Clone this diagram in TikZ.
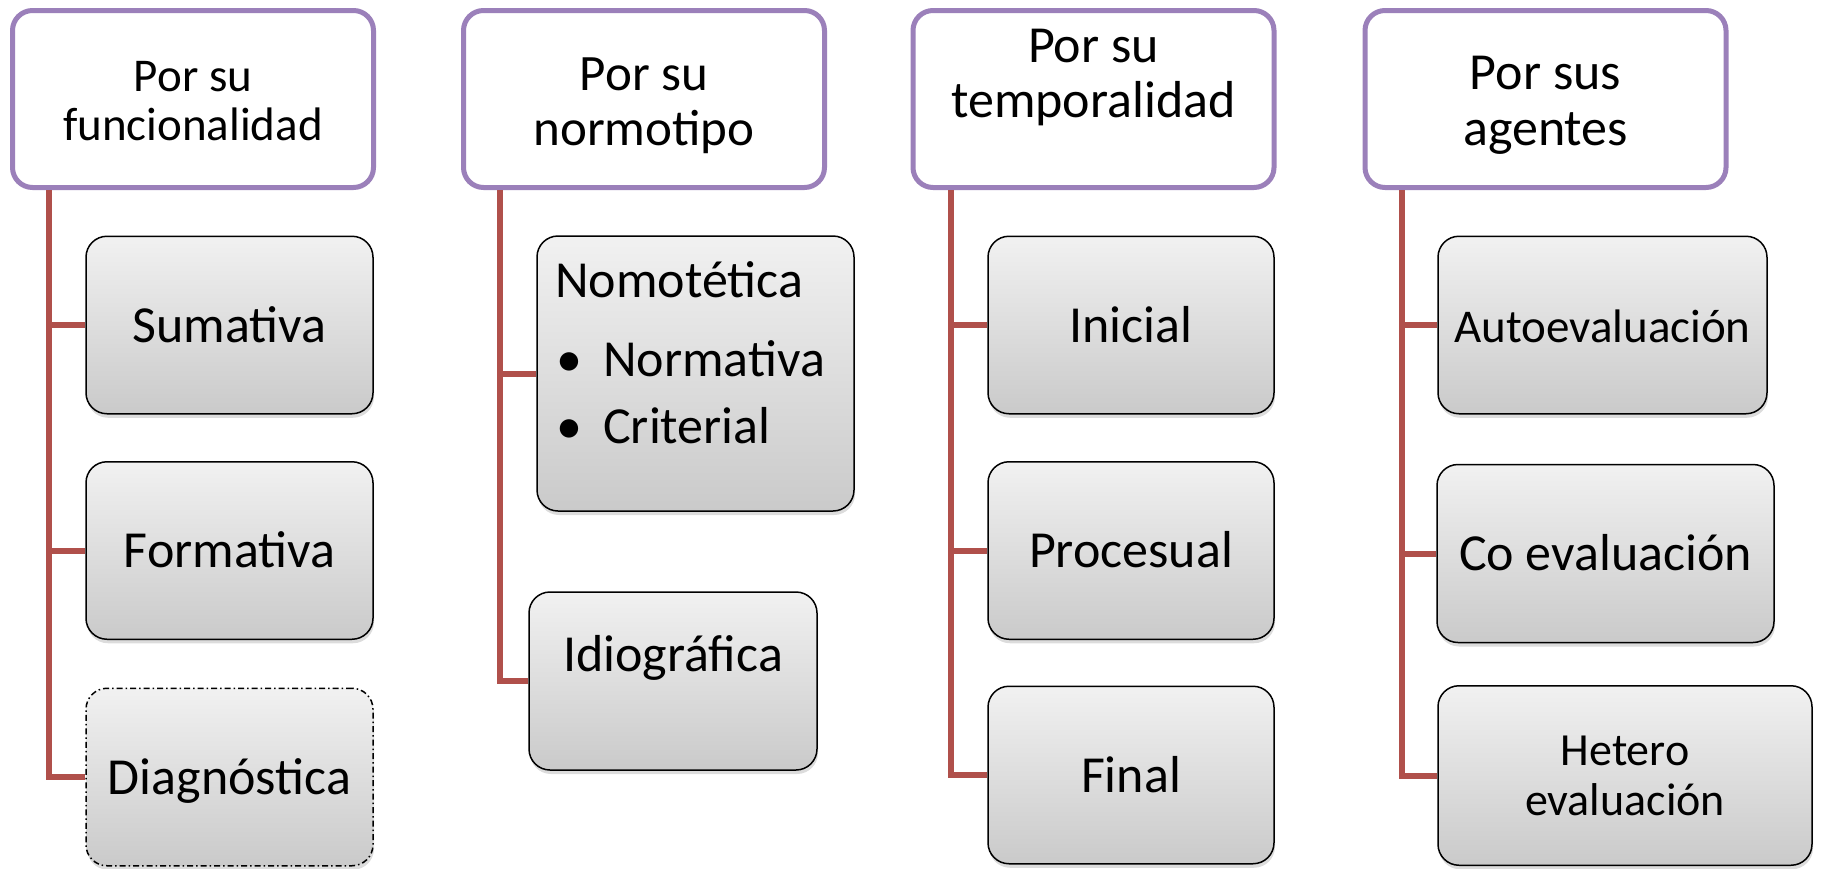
\documentclass[tikz,border=0pt]{standalone}
\usepackage{fontspec}
\setmainfont{Carlito}
\usetikzlibrary{shadows}
\definecolor{hdrpurple}{RGB}{155,128,186}
\definecolor{connred}{RGB}{176,80,75}
\definecolor{boxtop}{RGB}{241,241,241}
\definecolor{boxbot}{RGB}{202,202,202}
\newcommand\fszBody{\fontsize{52}{56}\selectfont}
\tikzset{
  hdr/.style={draw=hdrpurple, line width=5pt, rounded corners=20pt, fill=white,
    minimum width=361pt, minimum height=177pt, inner sep=0pt},
  htxt/.style={anchor=north, align=center, inner sep=0pt},
  sub/.style={draw=black, line width=1.5pt, rounded corners=21pt,
    top color=boxtop, bottom color=boxbot,
    drop shadow={opacity=0.28, shadow xshift=1pt, shadow yshift=-4pt},
    minimum width=287pt, minimum height=177.5pt, inner sep=0pt, font=\fszBody},
  one/.style={text height=34pt, text depth=0pt},
  btxt/.style={anchor=base west, inner sep=0pt, font=\fszBody},
  conn/.style={draw=connred, line width=6pt},
  dashdot/.style={dash pattern=on 6pt off 3pt on 1.5pt off 3pt}
}
\begin{document}
\begin{tikzpicture}[x=1pt, y=-1pt]
\useasboundingbox (0,0) rectangle (1821,868);

% headers
\node[hdr] (h1) at (193,99) {};
\node[hdr] (h2) at (644,99) {};
\node[hdr] (h3) at (1093.5,99) {};
\node[hdr] (h4) at (1545.5,99) {};
\node[htxt, font=\fontsize{47}{49}\selectfont] (h1t) at (193,61.3) {Por su\\funcionalidad};
\node[htxt, font=\fontsize{51}{55}\selectfont] (h2t) at (644,57.8) {Por su\\normotipo};
\node[htxt, font=\fontsize{52}{55}\selectfont] (h3t) at (1093.5,29.1) {Por su\\temporalidad};
\node[htxt, font=\fontsize{52}{56}\selectfont] (h4t) at (1545.5,56.1) {Por sus\\agentes};

% column 1
\node[sub, one] (sum) at (229.5,325) {Sumativa};
\node[sub, one] (form) at (229.5,550.5) {Formativa};
\node[sub, one, dashdot] (diag) at (229.5,777) {Diagnóstica};

% column 2
\node[sub, minimum width=317pt, minimum height=275pt] (nomo) at (695.5,373.5) {};
\node[btxt] (nomoA) at (555,297) {Nomotética};
\node[btxt] (nomoB) at (556,376) {\makebox[47pt][l]{•}Normativa};
\node[btxt] (nomoC) at (556,443) {\makebox[47pt][l]{•}Criterial};
\node[sub, minimum width=288pt, minimum height=178pt] (idio) at (673,681) {};
\node[anchor=base, inner sep=0pt, font=\fszBody] (idiot) at (673,671) {Idiográfica};

% column 3
\node[sub, one, minimum width=286pt] (ini) at (1131,325) {Inicial};
\node[sub, one, minimum width=286pt] (proc) at (1131,550.5) {Procesual};
\node[sub, one, minimum width=286pt] (fin) at (1131,775) {Final};

% column 4
\node[sub, one, minimum width=329pt, font=\fontsize{47}{50}\selectfont] (auto) at (1602.5,325) {Autoevaluación};
\node[sub, one, minimum width=337pt, minimum height=178pt] (co) at (1605.5,553.5) {Co evaluación};
\node[sub, minimum width=374pt, minimum height=179.5pt, align=center,
      font=\fontsize{46}{50}\selectfont] (het) at (1625,775.5) {Hetero\\evaluación};

% trunks
\coordinate (t1) at (49,190);
\coordinate (t2) at (500,190);
\coordinate (t3) at (951,190);
\coordinate (t4) at (1402,190);

\draw[conn] (t1) |- (sum.west);
\draw[conn] (t1) |- (form.west);
\draw[conn] (t1) |- (diag.west);
\draw[conn] (t2) |- (nomo.west);
\draw[conn] (t2) |- (idio.west);
\draw[conn] (t3) |- (ini.west);
\draw[conn] (t3) |- (proc.west);
\draw[conn] (t3) |- (fin.west);
\draw[conn] (t4) |- (auto.west);
\draw[conn] (t4) |- (co.west);
\draw[conn] (t4) |- (het.west);
\end{tikzpicture}
\end{document}
